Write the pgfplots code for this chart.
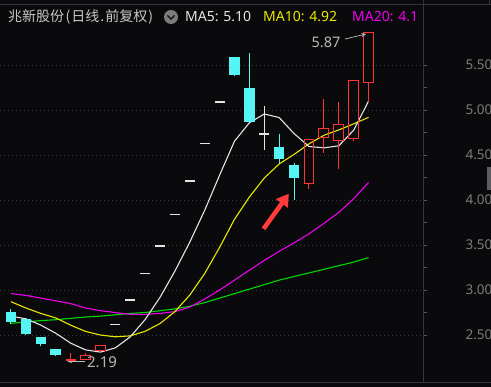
\documentclass[border=0pt]{standalone}
\usepackage{fontspec}
\setmainfont{Noto Sans}
\newfontfamily\cjk{Noto Sans CJK SC}
\usepackage{pgfplots}
\usepackage{pgfplotstable}
\pgfplotsset{compat=1.18}
\usetikzlibrary{arrows.meta}
\definecolor{bg}{HTML}{0A0A0C}
\definecolor{cy}{HTML}{55F5F5}
\definecolor{rd}{HTML}{FF3434}
\definecolor{wh}{HTML}{E4E4E4}
\definecolor{ylw}{HTML}{E8E800}
\definecolor{mag}{HTML}{F000F0}
\definecolor{grn}{HTML}{00D800}
\definecolor{gridC}{HTML}{3A3A3E}
\definecolor{lineC}{HTML}{34343A}
\definecolor{tickC}{HTML}{7C7C7C}
\definecolor{titleC}{HTML}{C8C8C8}
\definecolor{annC}{HTML}{B8B8B8}
\definecolor{arrR}{HTML}{FF3B3B}

\pgfplotstableread{
i ma5 ma10 ma20 ma60
0 2.71 2.87 2.96 2.63
1 2.68 2.80 2.94 2.645
2 2.61 2.74 2.91 2.66
3 2.52 2.69 2.88 2.67
4 2.41 2.61 2.85 2.685
5 2.335 2.54 2.80 2.70
6 2.31 2.50 2.77 2.71
7 2.357 2.48 2.75 2.725
8 2.479 2.49 2.73 2.74
9 2.671 2.541 2.73 2.75
10 2.918 2.627 2.74 2.77
11 3.21 2.760 2.76 2.79
12 3.532 2.944 2.81 2.82
13 3.886 3.183 2.90 2.86
14 4.276 3.474 3.00 2.91
15 4.654 3.786 3.11 2.96
16 4.858 4.034 3.22 3.01
17 4.956 4.244 3.33 3.06
18 4.916 4.401 3.43 3.11
19 4.738 4.507 3.524 3.15
20 4.594 4.624 3.625 3.19
21 4.58 4.719 3.740 3.23
22 4.602 4.779 3.862 3.27
23 4.776 4.846 4.014 3.31
24 5.10 4.919 4.196 3.36
}\ma

% falling candles (cyan, filled)
\pgfplotstableread{
x lo bot top hi
0 2.622 2.644 2.756 2.789
1 2.50 2.511 2.678 2.678
2 2.38 2.400 2.478 2.478
3 2.27 2.278 2.344 2.344
15 5.38 5.389 5.589 5.589
16 4.867 4.867 5.244 5.633
18 4.411 4.456 4.589 4.733
19 4.00 4.244 4.389 4.411
}\dn

% rising candles (red, hollow)
\pgfplotstableread{
x lo bot top hi
5 2.23 2.233 2.267 2.30
6 2.31 2.333 2.386 2.386
20 4.122 4.178 4.667 4.667
21 4.522 4.70 4.80 5.122
22 4.344 4.656 4.844 5.089
23 4.656 4.689 5.333 5.333
24 5.089 5.311 5.856 5.87
}\up

% one-price limit-up days
\pgfplotstableread{
x y
7 2.62
8 2.89
9 3.18
10 3.49
11 3.84
12 4.21
13 4.63
14 5.09
}\lim

% doji days
\pgfplotstableread{
x lo mid hi
4 2.19 2.222 2.30
}\djr
\pgfplotstableread{
x lo mid hi
17 4.556 4.733 5.044
}\djw

\begin{document}
\begin{tikzpicture}[x=1pt,y=1pt]
\fill[bg] (0,0) rectangle (491,387);
\useasboundingbox (0,0) rectangle (491,387);
\begin{axis}[
  at={(0pt,5pt)}, anchor=south west,
  scale only axis, width=423pt, height=378pt,
  xmin=-0.738, xmax=27.651, ymin=1.978, ymax=6.178,
  axis x line=none, axis y line*=right,
  y axis line style={draw=lineC, line width=0.8pt},
  xtick=\empty,
  ytick={2.5,3,3.5,4,4.5,5,5.5},
  minor y tick num=1,
  tick align=outside,
  major tick length=4pt, minor tick length=4pt,
  tick style={draw=tickC!70!black, line width=0.6pt},
  ymajorgrids,
  major grid style={draw=gridC, line width=0.6pt, dash pattern=on 1pt off 3pt},
  yticklabel style={font=\fontsize{13.5}{16}\selectfont, text=tickC, anchor=west, xshift=35pt},
  /pgf/number format/.cd, fixed, fixed zerofill, precision=2, assume math mode=true,
  /pgfplots/.cd,
  bar/.style={draw=none, mark=none, forget plot, error bars/.cd, y dir=both, y explicit, error mark=none, error bar style={#1}},
]
% moving averages
\addplot[grn, line width=1.1pt] table[x=i, y=ma60] {\ma};
\addplot[mag, line width=1.1pt] table[x=i, y=ma20] {\ma};
\addplot[ylw, line width=1.1pt] table[x=i, y=ma10] {\ma};
\addplot[wh, line width=1.1pt] table[x=i, y=ma5] {\ma};
% falling candles: wick then filled body
\addplot[bar={draw=cy, line width=1pt}] table[x=x, y expr=(\thisrow{lo}+\thisrow{hi})/2, y error expr=(\thisrow{hi}-\thisrow{lo})/2] {\dn};
\addplot[bar={draw=cy, line width=10.5pt}] table[x=x, y expr=(\thisrow{bot}+\thisrow{top})/2, y error expr=(\thisrow{top}-\thisrow{bot})/2] {\dn};
% rising candles: wicks outside the body, hollow body outline
\addplot[bar={draw=rd, line width=1pt}] table[x=x, y expr=(\thisrow{lo}+\thisrow{bot})/2, y error expr=(\thisrow{bot}-\thisrow{lo})/2] {\up};
\addplot[bar={draw=rd, line width=1pt}] table[x=x, y expr=(\thisrow{top}+\thisrow{hi})/2, y error expr=(\thisrow{hi}-\thisrow{top})/2] {\up};
\addplot[bar={draw=rd, line width=1pt, line cap=rect}] table[x expr=\thisrow{x}-0.335, y expr=(\thisrow{bot}+\thisrow{top})/2, y error expr=(\thisrow{top}-\thisrow{bot})/2] {\up};
\addplot[bar={draw=rd, line width=1pt, line cap=rect}] table[x expr=\thisrow{x}+0.335, y expr=(\thisrow{bot}+\thisrow{top})/2, y error expr=(\thisrow{top}-\thisrow{bot})/2] {\up};
\addplot[only marks, mark=-, mark size=5pt, mark options={draw=rd, line width=1pt}, forget plot] table[x=x, y=top] {\up};
\addplot[only marks, mark=-, mark size=5pt, mark options={draw=rd, line width=1pt}, forget plot] table[x=x, y=bot] {\up};
% dojis
\addplot[bar={draw=rd, line width=1pt}] table[x=x, y expr=(\thisrow{lo}+\thisrow{hi})/2, y error expr=(\thisrow{hi}-\thisrow{lo})/2] {\djr};
\addplot[only marks, mark=-, mark size=5pt, mark options={draw=rd, line width=1.2pt}, forget plot] table[x=x, y=mid] {\djr};
\addplot[bar={draw=wh, line width=1pt}] table[x=x, y expr=(\thisrow{lo}+\thisrow{hi})/2, y error expr=(\thisrow{hi}-\thisrow{lo})/2] {\djw};
\addplot[only marks, mark=-, mark size=5pt, mark options={draw=wh, line width=1.2pt}, forget plot] table[x=x, y=mid] {\djw};
% limit-up one-price days
\addplot[only marks, mark=-, mark size=5pt, mark options={draw=wh, line width=1.3pt}, forget plot] table[x=x, y=y] {\lim};
% annotations
\draw[annC, line width=0.7pt, -{Stealth[length=5pt,width=4pt]}] (axis cs:22.42,5.789) -- (axis cs:23.85,5.845);
\node[annC, font=\fontsize{14.5}{16}\selectfont, inner sep=0] at (axis cs:21.14,5.756) {5.87};
\draw[annC, line width=0.7pt, -{Stealth[length=5pt,width=4pt]}] (axis cs:4.97,2.21) -- (axis cs:3.76,2.21);
\node[annC, font=\fontsize{15}{17}\selectfont, inner sep=0] at (axis cs:6.11,2.20) {2.19};
\draw[arrR, line width=4.5pt, -{Triangle[length=12pt,width=14pt]}] (axis cs:16.95,3.68) -- (axis cs:18.65,4.07);
\end{axis}
% frame lines
\draw[lineC, line width=0.8pt] (0,383) -- (491,383);
\draw[lineC, line width=0.8pt] (0,5) -- (491,5);
\draw[lineC, line width=0.8pt] (423,5) -- (423,387);
\draw[lineC, line width=0.8pt] (489.5,383) -- (489.5,387);
\fill[lineC!80!white] (487,197) rectangle (491,220);
% title
\node[anchor=west, inner sep=0, text=titleC] at (8,370) {\cjk\fontsize{14}{16}\selectfont 兆新股份\kern1.5pt(\kern1pt 日线\kern1pt.\kern1pt 前复权\kern1pt)};
\fill[tickC] (171,370) circle (7);
\draw[bg, line width=1.3pt] (167.5,371.5) -- (171,368) -- (174.5,371.5);
\node[anchor=west, inner sep=0, text=wh] at (185,370) {\fontsize{14}{16}\selectfont MA5: 5.10};
\node[anchor=west, inner sep=0, text=ylw] at (263,370) {\fontsize{14}{16}\selectfont MA10: 4.92};
\node[anchor=west, inner sep=0, text=mag] at (352,370) {\fontsize{14}{16}\selectfont MA20: 4.1};
\end{tikzpicture}
\end{document}
